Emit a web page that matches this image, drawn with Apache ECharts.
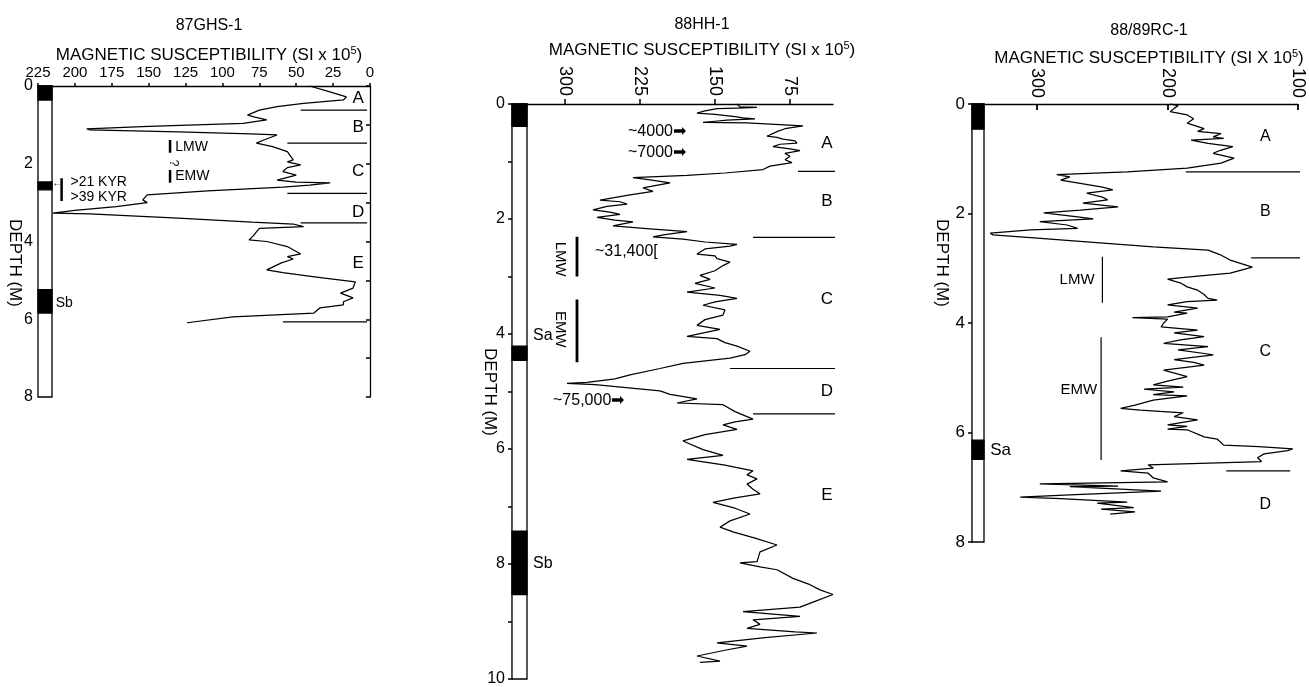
<!DOCTYPE html>
<html>
<head>
<meta charset="utf-8">
<script src="https://cdn.jsdelivr.net/npm/echarts@6/dist/echarts.min.js"></script>
<style>html,body{margin:0;padding:0;background:#fff}#c{width:1309px;height:687px}</style>
</head>
<body>
<div id="c"></div>
<script>
// ---------- DATA ----------
// Panel 1: 87GHS-1
const p1Depth = [0.00,0.12,0.28,0.36,0.45,0.53,0.62,0.75,0.80,0.87,0.96,1.04,1.10,1.13,1.18,1.23,1.26,1.39,1.47,1.56,1.69,1.80,1.90,1.95,2.03,2.10,2.20,2.29,2.42,2.47,2.49,2.55,2.60,2.70,2.80,2.93,3.00,3.10,3.20,3.27,3.29,3.40,3.50,3.55,3.62,3.66,3.75,3.85,3.96,4.00,4.13,4.32,4.39,4.45,4.55,4.73,4.80,4.92,5.04,5.20,5.33,5.40,5.45,5.55,5.63,5.71,5.84,5.94,6.09];
const p1Sus   = [41,30,16,18,45,63,75,83,78,70,86,150,192,190,130,81,63,72,77,66,56,54,52,56,47,56,59,50,63,50,27,41,59,110,151,154,151,172,200,215,190,130,80,52,45,75,77,79,82,70,56,47,56,52,60,70,59,35,10,11.5,20,15,11.5,18,18,34,38,93,124];
const p1ZoneDepths = [0.62,1.47,2.76,3.52,6.07];
const p1ZoneStart  = [47,56,56,47,59];
const p1ZoneEnd    = [2,2,2,2,2];
const p1ZoneNames  = ['A','B','C','D','E'];
const p1ZoneLabelDepths = [0.31,1.05,2.2,3.24,4.55];
const p1ColumnBands = [[0,0.36],[2.47,2.67],[5.24,5.84]];
const p1ColumnBottom = 8;

// Panel 2: 88HH-1
const p2Depth = [0.00,0.05,0.06,0.07,0.08,0.12,0.16,0.18,0.20,0.22,0.24,0.26,0.28,0.30,0.32,0.33,0.38,0.43,0.48,0.56,0.58,0.61,0.64,0.68,0.70,0.74,0.78,0.81,0.86,0.91,0.97,1.02,1.08,1.14,1.20,1.24,1.28,1.32,1.37,1.42,1.46,1.52,1.58,1.67,1.70,1.74,1.78,1.84,1.88,1.92,1.97,2.02,2.05,2.12,2.17,2.22,2.27,2.31,2.35,2.40,2.44,2.47,2.52,2.61,2.64,2.69,2.75,2.81,2.90,2.98,3.05,3.12,3.20,3.27,3.33,3.38,3.44,3.50,3.58,3.67,3.75,3.85,3.92,4.04,4.08,4.15,4.21,4.30,4.36,4.42,4.51,4.60,4.71,4.78,4.84,4.86,4.88,4.99,5.05,5.13,5.20,5.23,5.35,5.48,5.53,5.58,5.66,5.75,5.86,6.01,6.11,6.18,6.28,6.38,6.45,6.52,6.61,6.70,6.78,6.85,6.93,7.03,7.13,7.25,7.36,7.44,7.55,7.67,7.79,7.96,7.98,8.05,8.10,8.25,8.36,8.45,8.53,8.65,8.75,8.83,8.91,8.97,9.05,9.12,9.18,9.20,9.28,9.37,9.43,9.50,9.60,9.69,9.71];
const p2Sus   = [128,125,108,128,148,160,168,150,152,130,122,110,138,150,162,118,62,80,88,98,88,82,70,68,85,92,75,65,80,75,80,73,95,102,140,178,232,215,195,210,222,212,235,265,245,238,258,272,255,245,268,250,232,252,215,178,200,212,182,160,128,135,160,168,150,148,135,142,150,165,155,170,150,178,145,128,150,162,140,142,160,168,145,178,148,140,128,115,120,135,182,205,235,250,278,298,270,205,195,168,188,142,130,112,130,142,128,160,182,162,142,178,140,112,118,108,118,112,105,130,152,130,115,135,145,132,110,88,105,108,125,105,88,72,55,45,32,50,65,122,65,112,105,118,70,48,100,148,118,140,168,145,165];
const p2ZoneDepths = [1.17,2.32,4.60,5.39];
const p2ZoneStart  = [67,112,135,112];
const p2ZoneEnd    = [23,23,23,23];
const p2ZoneNames  = ['A','B','C','D','E'];
const p2ZoneLabelDepths = [0.68,1.69,3.39,4.99,6.8];
const p2ColumnBands = [[0,0.39],[4.21,4.46],[7.43,8.53]];
const p2ColumnBottom = 10;

// Panel 3: 88/89RC-1
const p3Depth = [0.00,0.03,0.08,0.14,0.20,0.27,0.35,0.45,0.50,0.54,0.60,0.63,0.66,0.69,0.72,0.78,0.85,0.90,0.99,1.08,1.17,1.24,1.29,1.33,1.39,1.45,1.52,1.57,1.63,1.70,1.75,1.81,1.88,1.94,1.99,2.06,2.10,2.15,2.21,2.27,2.30,2.36,2.39,2.45,2.52,2.61,2.67,2.75,2.85,2.98,3.09,3.16,3.20,3.27,3.34,3.40,3.48,3.55,3.58,3.61,3.67,3.73,3.80,3.82,3.89,3.90,3.93,4.00,4.07,4.13,4.18,4.25,4.31,4.37,4.43,4.49,4.58,4.67,4.72,4.77,4.86,4.98,5.06,5.13,5.17,5.21,5.26,5.31,5.33,5.41,5.50,5.56,5.59,5.64,5.71,5.77,5.86,5.89,5.94,5.95,6.08,6.12,6.23,6.26,6.30,6.33,6.39,6.46,6.53,6.59,6.65,6.70,6.74,6.83,6.90,6.94,6.98,6.99,7.07,7.14,7.18,7.21,7.27,7.29,7.37,7.40,7.45,7.49];
const p3Sus   = [198,192,195,198,185,180,185,172,177,159,165,157,182,182,169,150,160,165,149,159,185,231,285,275,282,267,250,242,262,250,246,265,238,267,295,269,257,298,277,269,305,336,334,300,262,211,169,160,152,135,152,185,200,190,185,177,172,169,162,185,200,177,195,185,200,227,200,203,205,177,195,172,190,203,169,192,165,195,180,172,203,185,200,211,188,218,195,211,185,211,225,236,221,188,195,177,200,185,200,185,172,162,157,130,104,108,126,131,128,215,211,236,215,211,200,298,238,275,205,275,313,282,231,254,226,251,225,244];
const p3ZoneDepths = [1.24,2.81,6.70];
const p3ZoneStart  = [186,136,155];
const p3ZoneEnd    = [98,98,106];
const p3ZoneNames  = ['A','B','C','D'];
const p3ZoneLabelDepths = [0.6,1.97,4.53,7.31];
const p3ColumnBands = [[0,0.46],[6.14,6.49]];
const p3ColumnBottom = 8;

// Annotations (text, value, depth)
const p1Notes = [['LMW',132,1.57],['EMW',132,2.33],['>21 KYR',203,2.47],['>39 KYR',203,2.85],['Sb',213,5.58]];
const p1Bars  = [[135.5,1.39,1.72],[135.5,2.16,2.49],[209,2.37,2.96]];
const p2Notes = [['~4000➡',237,0.48],['~7000➡',237,0.85],['~31,400[',270,2.57],['~75,000➡',312,5.16],['Sa',332,4.02],['Sb',332,8.0]];
const p2RotNotes = [['LMW',305,2.7],['EMW',305,3.92]];
const p2Bars  = [[288,2.31,3.0],[288,3.4,4.49]];
const p3Notes = [['LMW',256,3.21],['EMW',254,5.22]];
const p3NotesLeft = [['Sa',336,6.32]];
const p3Bars  = [[250,2.79,3.63],[251,4.26,6.5]];

const p2XTicks = [75,150,225,300];
const p3XTicks = [100,200,300];

// ---------- CHART ----------
const FONT = 'Liberation Sans';
const INK = '#000';
const chart = echarts.init(document.getElementById('c'));

function zip(a,b){ return a.map((d,i)=>[b[i], d]); }
function zoneData(depths, starts, ends){
  const out = [];
  depths.forEach((d,i)=>{ out.push([starts[i], d]); out.push([ends[i], d]); out.push(['-','-']); });
  return out;
}

function mainSeries(idx, depth, sus){
  return {
    type:'line', xAxisIndex:idx, yAxisIndex:idx, data: zip(depth, sus),
    showSymbol:false, symbol:'none', clip:false, animation:false, silent:true,
    lineStyle:{color:INK, width:1.25}
  };
}
function zoneSeries(idx, data){
  return {
    type:'line', xAxisIndex:idx, yAxisIndex:idx, data:data, connectNulls:false,
    showSymbol:false, symbol:'none', clip:false, animation:false, silent:true,
    lineStyle:{color:INK, width:1.2}
  };
}
function barSeries(idx, bars, w){
  const data = [];
  bars.forEach(b=>{ data.push([b[0],b[1]]); data.push([b[0],b[2]]); data.push(['-','-']); });
  return zoneSeries(idx, data.slice()).lineStyle ? Object.assign(zoneSeries(idx, data), {lineStyle:{color:INK, width:w}}) : null;
}
function labelSeries(idx, items, opts){
  return {
    type:'scatter', xAxisIndex:idx, yAxisIndex:idx, symbolSize:0, silent:true, animation:false,
    itemStyle:{opacity:1},
    data: items.map(t=>({value:[t[1],t[2]], name:t[0]})),
    label:Object.assign({show:true, formatter:p=>p.name, color:INK, opacity:1, fontFamily:FONT}, opts)
  };
}
function columnSeries(idx, xMin, width, bands, bottom){
  const data = [[0,bottom,0]].concat(bands.map(b=>[b[0],b[1],1]));
  return {
    type:'custom', xAxisIndex:idx, yAxisIndex:idx, silent:true, animation:false, clip:false,
    data: data,
    encode:{y:[0,1]},
    renderItem:function(params, api){
      const cs = params.coordSys;
      const y1 = api.coord([xMin, api.value(0)])[1];
      const y2 = api.coord([xMin, api.value(1)])[1];
      const f = api.value(2);
      return {type:'rect', shape:{x:cs.x, y:y1, width:width, height:y2-y1},
        style:{fill: f ? '#000' : '#fff', stroke:'#000', lineWidth:1.3}};
    }
  };
}

const axisLineStyle = {show:true, lineStyle:{color:INK, width:1.3}};
const evenFmt = v => (Math.round(v)%2===0 ? String(Math.round(v)) : '');
const supRich = {sup:{fontSize:11, fontFamily:FONT, color:INK, padding:[0,0,9,0]}};
function titleBlock(name, sub, cx, yName, ySub){
  return [
    {text:name, left:cx, top:yName-10, textAlign:'center', textStyle:{fontFamily:FONT, fontSize:16, fontWeight:'normal', color:INK}},
    {text:sub, left:cx, top:ySub-10, textAlign:'center', textStyle:{fontFamily:FONT, fontSize:17, fontWeight:'normal', color:INK, rich:supRich}}
  ];
}
function depthName(x, y){
  return {type:'text', x:x, y:y, rotation:-Math.PI/2, style:{text:'DEPTH (M)', font:'17px "Liberation Sans"', fill:INK, textAlign:'center', textVerticalAlign:'middle'}};
}

const option = {
  backgroundColor:'#fff',
  animation:false,
  title: [].concat(
    titleBlock('87GHS-1','MAGNETIC SUSCEPTIBILITY (SI x 10{sup|5})',204,23,50),
    titleBlock('88HH-1','MAGNETIC SUSCEPTIBILITY (SI x 10{sup|5})',697,22,45),
    titleBlock('88/89RC-1','MAGNETIC SUSCEPTIBILITY (SI X 10{sup|5})',1144,28,53)
  ),
  graphic: [depthName(15,263), depthName(490,392), depthName(942,263)],
  grid: [
    {left:38, top:86, width:332, height:311},
    {left:512, top:104, width:321, height:579},
    {left:972, top:104, width:326, height:438}
  ],
  xAxis: [
    {gridIndex:0, type:'value', position:'top', inverse:true, min:0, max:225, interval:25,
      axisLine:axisLineStyle, axisTick:{show:true, length:3, lineStyle:{color:INK, width:1.5}},
      axisLabel:{fontFamily:FONT, fontSize:15, color:INK, margin:6, showMaxLabel:true, showMinLabel:true}, splitLine:{show:false}},
    {gridIndex:1, type:'value', position:'top', inverse:true, min:32, max:353,
      axisLine:axisLineStyle, axisTick:{show:true, length:5, customValues:p2XTicks, lineStyle:{color:INK, width:1.5}},
      axisLabel:{fontFamily:FONT, fontSize:18, color:INK, margin:8, rotate:-90, customValues:p2XTicks}, splitLine:{show:false}},
    {gridIndex:2, type:'value', position:'top', inverse:true, min:100, max:350,
      axisLine:axisLineStyle, axisTick:{show:true, inside:true, length:6, customValues:p3XTicks, lineStyle:{color:INK, width:1.8}},
      axisLabel:{fontFamily:FONT, fontSize:18, color:INK, margin:6, rotate:-90, customValues:p3XTicks}, splitLine:{show:false}}
  ],
  yAxis: [
    {gridIndex:0, type:'value', inverse:true, min:0, max:8, interval:1,
      axisLine:axisLineStyle, axisTick:{show:true, length:4, lineStyle:{color:INK, width:1.5}},
      axisLabel:{fontFamily:FONT, fontSize:16, color:INK, margin:5, formatter:evenFmt}, splitLine:{show:false}},
    {gridIndex:1, type:'value', inverse:true, min:0, max:10, interval:1,
      axisLine:axisLineStyle, axisTick:{show:true, length:4, lineStyle:{color:INK, width:1.5}},
      axisLabel:{fontFamily:FONT, fontSize:16, color:INK, margin:7, formatter:evenFmt}, splitLine:{show:false}},
    {gridIndex:2, type:'value', inverse:true, min:0, max:8, interval:2,
      axisLine:axisLineStyle, axisTick:{show:true, length:4, lineStyle:{color:INK, width:1.5}},
      axisLabel:{fontFamily:FONT, fontSize:17, color:INK, margin:7}, splitLine:{show:false}}
  ],
  series: [
    columnSeries(0, 0, 14, p1ColumnBands, p1ColumnBottom),
    columnSeries(1, 32, 15, p2ColumnBands, p2ColumnBottom),
    columnSeries(2, 100, 12, p3ColumnBands, p3ColumnBottom),
    mainSeries(0, p1Depth, p1Sus),
    mainSeries(1, p2Depth, p2Sus),
    mainSeries(2, p3Depth, p3Sus),
    zoneSeries(0, zoneData(p1ZoneDepths, p1ZoneStart, p1ZoneEnd)),
    zoneSeries(1, zoneData(p2ZoneDepths, p2ZoneStart, p2ZoneEnd)),
    zoneSeries(2, zoneData(p3ZoneDepths, p3ZoneStart, p3ZoneEnd)),
    barSeries(0, p1Bars, 2.5),
    barSeries(1, p2Bars, 2.8),
    barSeries(2, p3Bars, 1.2),
    labelSeries(0, p1ZoneNames.map((n,i)=>[n,8,p1ZoneLabelDepths[i]]), {position:'inside', fontSize:17}),
    labelSeries(1, p2ZoneNames.map((n,i)=>[n,38,p2ZoneLabelDepths[i]]), {position:'inside', fontSize:17}),
    labelSeries(2, p3ZoneNames.map((n,i)=>[n,125,p3ZoneLabelDepths[i]]), {position:'inside', fontSize:16}),
    labelSeries(0, p1Notes, {position:'right', distance:0, fontSize:14}),
    labelSeries(0, [['?',133,1.98]], {position:'inside', fontSize:12, rotate:-90}),
    labelSeries(0, [['←',212,2.49]], {position:'inside', fontSize:10}),
    labelSeries(1, p2Notes, {position:'right', distance:0, fontSize:16}),
    labelSeries(1, p2RotNotes, {position:'inside', fontSize:15, rotate:-90}),
    labelSeries(2, p3Notes, {position:'left', distance:0, fontSize:15}),
    labelSeries(2, p3NotesLeft, {position:'right', distance:0, fontSize:17})
  ]
};
chart.setOption(option);
</script>
</body>
</html>
